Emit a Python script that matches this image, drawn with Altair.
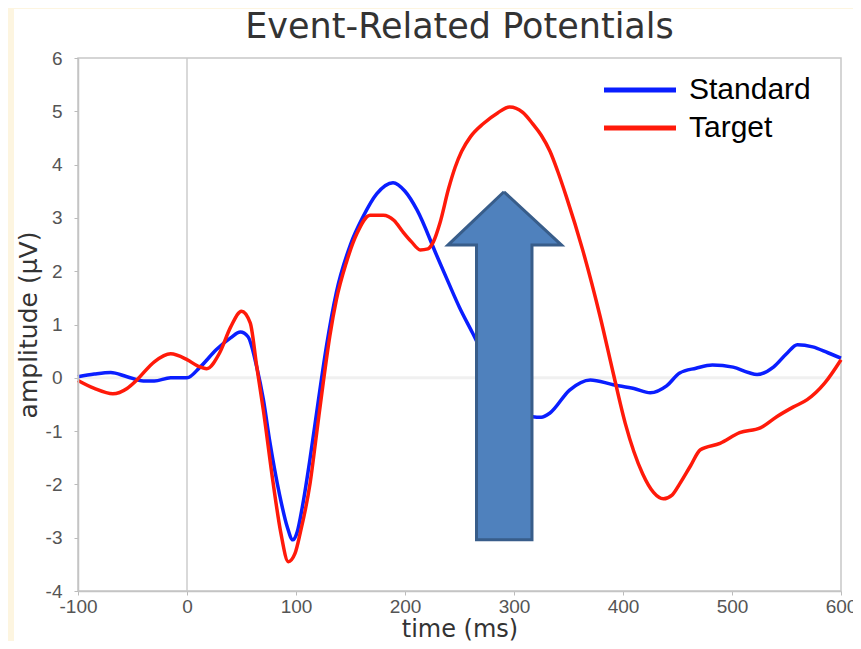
import altair as alt
import pandas as pd

# ---------------- data ----------------
std_t = [-100, -85, -70, -55, -40, -30, -15, 0, 12, 27, 40, 49, 56, 64, 70, 76, 85, 92, 97,
         101, 106, 113, 120, 128, 137, 150, 161, 174, 189, 200, 211, 229, 240, 250, 262, 275,
         290, 305, 317, 325, 333, 351, 370, 391, 410, 425, 440, 452, 467, 482, 501, 515, 523,
         538, 550, 560, 574, 588, 600]
std_v = [0.02, 0.07, 0.10, 0.02, -0.06, -0.06, 0.0, 0.0, 0.20, 0.53, 0.75, 0.86, 0.77, 0.20,
         -0.40, -1.20, -2.20, -2.80, -3.04, -2.90, -2.40, -1.50, -0.50, 0.60, 1.60, 2.50, 3.00,
         3.45, 3.66, 3.50, 3.15, 2.30, 1.78, 1.32, 0.84, 0.30, -0.25, -0.60, -0.73, -0.74,
         -0.66, -0.23, -0.04, -0.13, -0.20, -0.28, -0.15, 0.09, 0.18, 0.24, 0.20, 0.10, 0.06,
         0.20, 0.45, 0.62, 0.58, 0.47, 0.37]

tgt_t = [-100, -85, -68, -55, -46, -30, -15, 0, 10, 18, 30, 40, 50, 58, 64, 70, 79, 86, 93,
         99, 104, 113, 119, 125, 131, 137, 146, 156, 168, 180, 190, 198, 206, 214, 221, 226,
         232, 240, 246, 252, 260, 272, 285, 296, 308, 317, 325, 333, 340, 348, 363, 379, 391,
         402, 418, 428, 437, 445, 452, 462, 471, 489, 507, 526, 541, 556, 569, 585, 600]
tgt_v = [-0.05, -0.20, -0.30, -0.20, -0.04, 0.30, 0.45, 0.34, 0.22, 0.17, 0.47, 0.95, 1.25,
         1.03, 0.21, -0.60, -1.97, -2.90, -3.45, -3.30, -2.90, -1.97, -1.03, -0.09, 0.78, 1.46,
         2.15, 2.71, 3.05, 3.05, 2.95, 2.74, 2.55, 2.40, 2.42, 2.55, 2.90, 3.55, 3.95, 4.25,
         4.52, 4.77, 4.97, 5.08, 4.98, 4.77, 4.55, 4.25, 3.88, 3.40, 2.40, 1.15, 0.09, -0.85,
         -1.80, -2.15, -2.27, -2.20, -1.99, -1.65, -1.35, -1.23, -1.03, -0.94, -0.73, -0.55,
         -0.41, -0.10, 0.34]

series_names = ["Standard", "Target"]
series_colors = ["#0a1eff", "#ff1a0a"]

# big annotation arrow (outline vertices in data units)
arrow_t = [290.8, 343.6, 316.5, 316.5, 265.6, 265.6, 239.4, 290.8]
arrow_v = [3.49, 2.49, 2.49, -3.04, -3.04, 2.49, 2.49, 3.49]

x_ticks = [-100, 0, 100, 200, 300, 400, 500, 600]
y_ticks = [-4, -3, -2, -1, 0, 1, 2, 3, 4, 5, 6]

title_text = "Event-Related Potentials"
x_title = "time (ms)"
y_title = "amplitude (\u00b5V)"

W, H = 763, 533

# ---------------- tables ----------------
df = pd.concat([
    pd.DataFrame({"t": std_t, "v": std_v, "series": series_names[0]}),
    pd.DataFrame({"t": tgt_t, "v": tgt_v, "series": series_names[1]}),
])
arrow_df = pd.DataFrame({"t": arrow_t, "v": arrow_v, "i": list(range(len(arrow_t)))})

xs = alt.Scale(domain=[-100, 600], nice=False, zero=False)
ys = alt.Scale(domain=[-4, 6], nice=False, zero=False)

axis_common = dict(
    zindex=1, grid=False, labelFont="Liberation Sans", labelFontSize=19, labelColor="#555555",
    labelExpr="'' + datum.value", tickSize=4, tickColor="#bbbbbb", domainColor="#c4c4c4",
    domainWidth=1.5, titleFont="DejaVu Sans", titleFontWeight="normal",
    titleColor="#333333", labelOverlap=False,
)
x_axis = alt.Axis(values=x_ticks, title=x_title, labelFlush=False, labelPadding=2,
                  titlePadding=1, titleFontSize=24, **axis_common)
y_axis = alt.Axis(values=y_ticks, title=y_title, labelPadding=12, titlePadding=4,
                  titleFontSize=25, **axis_common)

# white panel behind everything
panel = alt.Chart(pd.DataFrame({"a": [0]})).mark_rect(fill="white").encode(
    x=alt.value(-64), x2=alt.value(W + 12), y=alt.value(-49), y2=alt.value(H + 50)
)

zero_v = alt.Chart(pd.DataFrame({"z": [0]})).mark_rule(color="#d9d9d9", strokeWidth=2).encode(
    x=alt.X("z:Q", scale=xs, axis=x_axis)
)
zero_h = alt.Chart(pd.DataFrame({"z": [0]})).mark_rule(color="#f0f0f0", strokeWidth=3).encode(
    y=alt.Y("z:Q", scale=ys, axis=y_axis)
)

lines = alt.Chart(df).mark_line(strokeWidth=3.5, interpolate="monotone").encode(
    x=alt.X("t:Q", scale=xs, axis=x_axis),
    y=alt.Y("v:Q", scale=ys, axis=y_axis),
    color=alt.Color(
        "series:N",
        scale=alt.Scale(domain=series_names, range=series_colors),
        legend=alt.Legend(
            orient="none", legendX=547, legendY=17, title=None, padding=0,
            symbolType="M-4,0H4", symbolSize=324, symbolStrokeWidth=5,
            symbolFillColor="transparent", labelFont="Liberation Sans", labelFontSize=30,
            labelColor="black", labelOffset=34, rowPadding=8,
        ),
    ),
)

arrow = alt.Chart(arrow_df).mark_line(
    fill="#4f81bd", stroke="#385d8a", strokeWidth=3, strokeJoin="miter", interpolate="linear"
).encode(
    x=alt.X("t:Q", scale=xs, axis=x_axis),
    y=alt.Y("v:Q", scale=ys, axis=y_axis),
    order="i:Q",
)

border = alt.Chart(pd.DataFrame({"a": [0]})).mark_rect(
    fillOpacity=0, stroke="#c8c8c8", strokeWidth=1.5
).encode(x=alt.value(0), x2=alt.value(W), y=alt.value(0), y2=alt.value(H))

title = alt.Chart(pd.DataFrame({"label": [title_text]})).mark_text(
    font="DejaVu Sans", fontSize=35, color="#333333", align="center", baseline="alphabetic"
).encode(text="label:N", x=alt.value(W / 2), y=alt.value(-20))

chart = alt.layer(panel, zero_v, zero_h, border, lines, arrow, title).properties(
    width=W, height=H,
    autosize=alt.AutoSizeParams(type="none"),
    padding={"left": 70, "top": 50, "right": 12, "bottom": 50},
    background="#fdf5e0",
).configure_view(strokeWidth=0)

chart.save("out.html", embed_options={"renderer": "svg", "actions": False})
